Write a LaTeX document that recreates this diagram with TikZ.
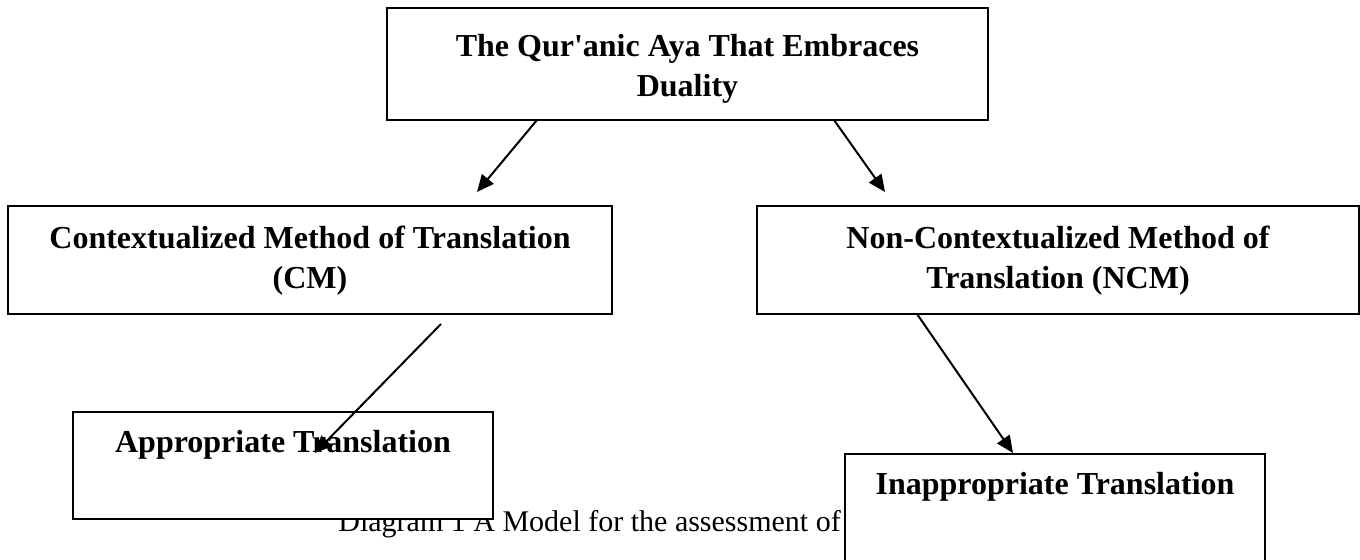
\documentclass[tikz,border=0pt]{standalone}
\usepackage{fontspec}
\setmainfont{Liberation Serif}
\usetikzlibrary{arrows.meta,calc}
\begin{document}
\begin{tikzpicture}[x=0.5pt,y=-0.5pt,
  box/.style={draw=black,line width=1pt,fill=white,anchor=north west,inner sep=0pt,
    outer sep=0pt,align=center,font=\fontsize{16pt}{20pt}\selectfont\bfseries},
  link/.style={line width=1pt,-{Triangle[length=8.5pt,width=7.5pt]}},
  capt/.style={anchor=base west,inner sep=0pt,font=\fontsize{15pt}{18pt}\selectfont}]
\useasboundingbox (0,0) rectangle (1360,560);

% caption line, partly hidden under the lower boxes
\node[capt] (caption) at (338,532) {Diagram 1 A Model for the assessment of Q};

% boxes (text height/depth are measured from the last line's baseline)
\node[box,minimum width=300.5pt,minimum height=56pt,text height=39.5pt,text depth=6.5pt]
  (aya) at (387,8) {The Qur\textquotesingle anic Aya That Embraces\\Duality};
\node[box,minimum width=302pt,minimum height=54pt,text height=39.5pt,text depth=10.5pt]
  (cm) at (8,206) {Contextualized Method of Translation\\(CM)};
\node[box,minimum width=301pt,minimum height=54pt,text height=39.5pt,text depth=10.5pt]
  (ncm) at (757,206) {Non-Contextualized Method of\\Translation (NCM)};
\node[box,minimum width=210pt,minimum height=53.5pt,text height=15pt,text depth=27.5pt]
  (appr) at (73,412) {Appropriate Translation};
\node[box,minimum width=210pt,minimum height=56pt,text height=15pt,text depth=30pt]
  (inappr) at (845,454) {Inappropriate Translation};

% connectors
\draw[link] ($(aya.south west)+(150,0)$) -- ($(cm.north west)+(469,-14)$);
\draw[link] ($(aya.south west)+(447,0)$) -- ($(ncm.north west)+(128,-14)$);
\draw[link] ($(cm.south west)+(433,10)$) -- ($(appr.north west)+(242,41)$);
\draw[link] ($(ncm.south west)+(160,0)$) -- ($(inappr.north west)+(168,-1)$);
\end{tikzpicture}
\end{document}
